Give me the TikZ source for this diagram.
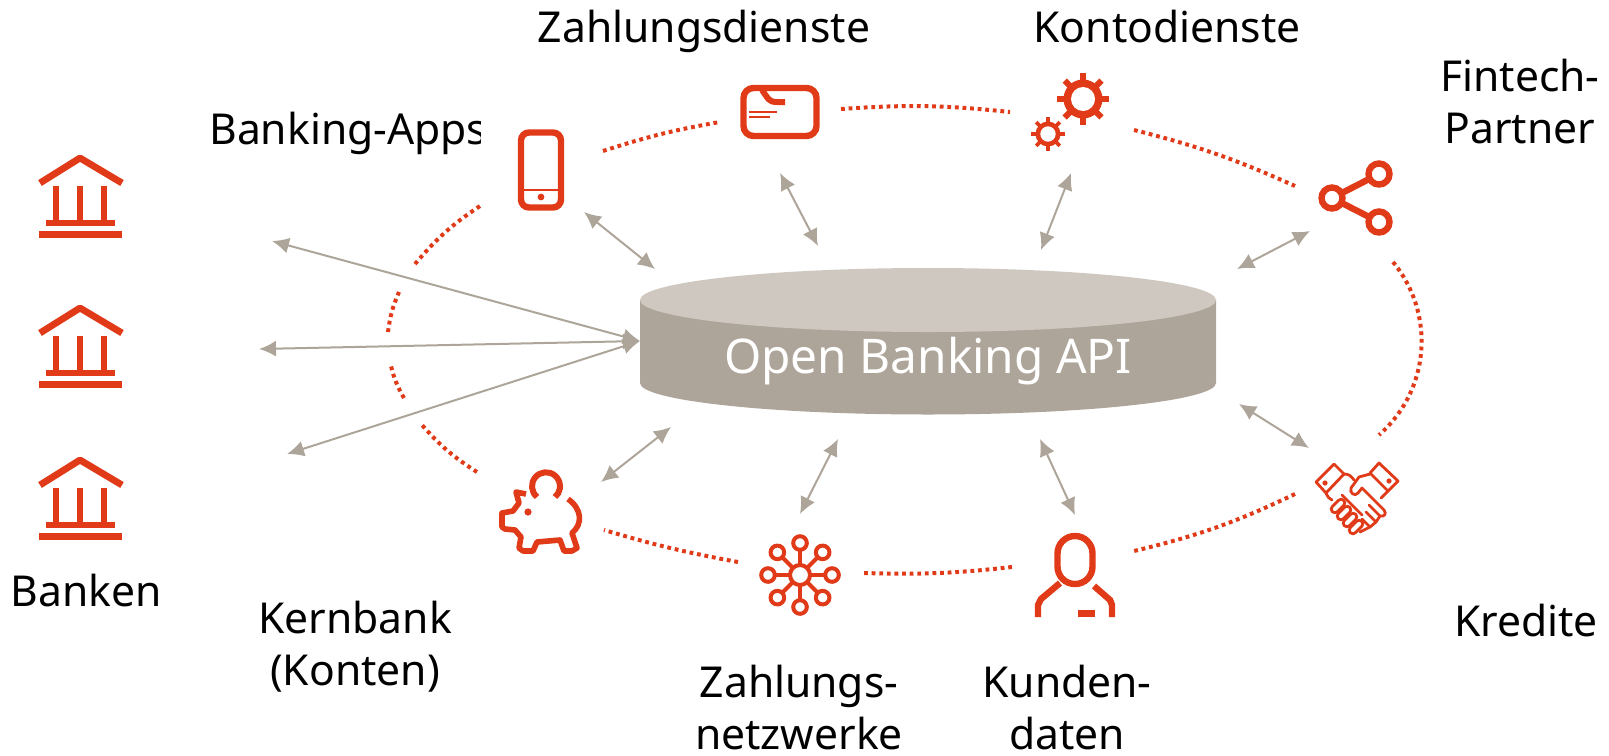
\documentclass[tikz,border=0pt]{standalone}
\usepackage{fontspec}
\setmainfont{Noto Sans}
\definecolor{apired}{HTML}{E03A18}
\definecolor{apigray}{HTML}{AEA59A}
\definecolor{apilight}{HTML}{CEC8C1}
\usetikzlibrary{arrows.meta}
\tikzset{
	label text/.style={font=\fontsize{21.3}{26}\selectfont, text=black, align=center, inner sep=0pt},
	link/.style={apigray, line width=1pt, {Latex[length=8.5pt,width=8pt]}-{Latex[length=8.5pt,width=8pt]}},
	ring/.style={apired, dash pattern=on 1.9pt off 1.9pt, line width=2pt},
	icon/.style={apired, line width=3.2pt},
	fine/.style={apired, line width=1.4pt, line join=round, line cap=round},
	bank/.pic={
		\draw[apired, line width=3.4pt, line join=round] (40,183)--(80,158)--(122,183);
		\foreach \x in {56,80,104}
			\draw[apired, line width=3.2pt] (\x,186)--(\x,222);
		\fill[apired] (46,220) rectangle (115,226);
		\fill[apired] (39,231) rectangle (122,238);
	},
	cog/.pic={
		\foreach \a in {0,45,...,315}
			\fill[apired, rotate=\a] (-3,-26) rectangle (3,0);
		\fill[apired] (0,0) circle (19.5);
		\fill[white] (0,0) circle (12);
	}
}
\begin{document}
\begin{tikzpicture}[x=0.5pt, y=-0.5pt]
	\useasboundingbox (0,0) rectangle (1609,755);

	% fixed points of the dotted ring
	\coordinate (R1) at (603,151);
	\coordinate (R2) at (720,122);
	\coordinate (R3) at (841,109);
	\coordinate (R4) at (1010,112);
	\coordinate (R5) at (1134,130);
	\coordinate (R6) at (1295,186);
	\coordinate (R7) at (1393,262);
	\coordinate (R8) at (1379,435);
	\coordinate (R9) at (1295,494);
	\coordinate (R10) at (1134,551);
	\coordinate (R11) at (1012,567);
	\coordinate (R12) at (864,573);
	\coordinate (R13) at (738,562);
	\coordinate (R14) at (604,530);
	\coordinate (R15) at (477,472);
	\coordinate (R16) at (422,425);
	\coordinate (R17) at (404,398);
	\coordinate (R18) at (391,366);
	\coordinate (R19) at (388,332);
	\coordinate (R20) at (399,292);
	\coordinate (R21) at (415,264);
	\coordinate (R22) at (480,206);

	\draw[ring] (R1) to[bend left=4] (R2);
	\draw[ring] (R3) to[bend left=5] (R4);
	\draw[ring] (R5) to[bend left=5] (R6);
	\draw[ring] (R7) to[bend left=44] (R8);
	\draw[ring] (R9) to[bend left=6] (R10);
	\draw[ring] (R11) to[bend left=4] (R12);
	\draw[ring] (R13) to[bend left=3] (R14);
	\draw[ring] (R15) to[bend left=8] (R16);
	\draw[ring] (R17) to[bend left=8] (R18);
	\draw[ring] (R19) to[bend left=8] (R20);
	\draw[ring] (R21) to[bend left=8] (R22);

	% cylinder
	\fill[apigray] (640,300) -- (640,383) arc[start angle=180, end angle=0, x radius=288, y radius=31.5] -- (1216,300) -- cycle;
	\fill[apilight] (928,300) ellipse [x radius=288, y radius=32];
	\node[font=\fontsize{23.9}{30}\selectfont, text=white, inner sep=0pt] (api) at (928,361) {Open Banking API};

	% links
	\coordinate (hub) at (640,341);
	\foreach \a/\b in {272/241, 259/349, 287/454}
		\draw[link] (\a,\b)--(hub);
	\foreach \a/\b/\c/\d in {584/212/655/269, 780/173/818/246, 1071/173/1041/250,
			1310/231/1237/269, 1239/404/1309/448, 601/482/671/427,
			800/514/838/439, 1075/515/1040/439}
		\draw[link] (\a,\b)--(\c,\d);

	% banks
	\pic at (0,0) {bank};
	\pic at (0,150) {bank};
	\pic at (0,302) {bank};

	% phone
	\draw[icon, rounded corners=4pt] (521,132.5) rectangle (561,207.5);
	\draw[apired, line width=1pt] (521,190)--(561,190);
	\fill[apired] (541,197) circle (3.4);

	% card
	\draw[icon, rounded corners=5pt] (743.5,88) rectangle (816.5,136);
	\draw[apired, line width=3pt] (762,90) .. controls (768,98) and (768,102) .. (777,102) -- (785,102);
	\draw[apired, line width=1pt] (749,112)--(777,112);
	\draw[apired, line width=1pt] (749,117)--(770,117);

	% gears
	\pic at (1083,99) {cog};
	\pic[scale=0.64] at (1048,134) {cog};

	% share
	\coordinate (S1) at (1332,198);
	\coordinate (S2) at (1379,174);
	\coordinate (S3) at (1379,222);
	\draw[icon] (S1)--(S2) (S1)--(S3);
	\foreach \p in {(S1),(S2),(S3)}
		\draw[icon, fill=white] \p circle (10.5);

	% handshake
	\draw[fine] (1316,482)--(1334,464)--(1344,474)--(1326,493)--cycle;
	\draw[fine] (1379,463)--(1398,481)--(1388,491)--(1370,473)--cycle;
	\fill[apired] (1325,483) circle (2.6);
	\fill[apired] (1389,481) circle (2.6);
	\draw[fine] (1344,474) .. controls (1349,474) and (1351,476) .. (1354,480);
	\draw[fine] (1326,493) .. controls (1328,497) and (1329,499) .. (1332,500);
	\draw[fine] (1370,474) -- (1359,477) -- (1351,488) .. controls (1349,493) and (1355,497) .. (1358,493) -- (1362,488)
		-- (1384,510) .. controls (1387,514) and (1384,517) .. (1380,516) -- (1369,505);
	\draw[fine] (1388,491)--(1381,498);
	\draw[fine] (1380,516)--(1376,522) -- (1366,512);
	\draw[fine] (1376,522)--(1370,527) -- (1362,519);
	\draw[fine] (1370,527)--(1360,532);
	\draw[fine] (1342,495)--(1362,515);
	\foreach \x/\y in {1338/506, 1344/513, 1350/520, 1356/527}
		\draw[fine, fill=white, rotate around={45:(\x,\y)}, rounded corners=1.7pt] (\x-8,\y-3.6) rectangle (\x+8,\y+3.6);

	% person
	\draw[icon, rounded corners=8.7pt] (1057.5,536) rectangle (1092.5,584);
	\draw[icon] (1060,583)--(1041,599)--(1038,605)--(1038,617);
	\draw[icon] (1094,586)--(1110,600)--(1112,605)--(1112,617);
	\fill[apired] (1078,610) rectangle (1095,617);

	% network
	\coordinate (N) at (800,575);
	\foreach \a in {0,45,...,315}{
		\draw[apired, line width=2pt] (N) -- ++(\a:26);
		\draw[apired, line width=2pt, fill=white] (N) ++(\a:32) circle (6.8);
	}
	\draw[apired, line width=2pt, fill=white] (N) circle (10);

	% pig
	\draw[apired, line width=3pt] (537,497) arc[start angle=130, end angle=410, x radius=14, y radius=14];
	\draw[icon, line width=2.8pt, line join=round] (568,499) .. controls (582,509) and (583,524) .. (572,533)
		-- (577,548) -- (572,551) -- (564,551) -- (560,540) -- (537,542) -- (533,551) -- (523,551) -- (519,548)
		-- (521,537) -- (515,530) -- (505,529) -- (502,527) -- (502,513) -- (513,511) -- (519,503)
		-- (516,492) -- (526,494);
	\fill[apired] (528,512) circle (3.6);

	% labels
	\begin{scope}
		\clip (0,100) rectangle (480,170);
		\node[label text, anchor=base west] (apps) at (209,144) {Banking-Apps};
	\end{scope}
	\node[label text, anchor=base] (pay) at (704,42) {Zahlungsdienste};
	\node[label text, anchor=base] (acc) at (1167,42) {Kontodienste};
	\node[label text] (fin) at (1520,102) {Fintech-\\Partner};
	\node[label text, anchor=base] (ban) at (86,606) {Banken};
	\node[label text] (core) at (355,647) {Kernbank\\(Konten)};
	\node[label text] (net) at (799,708) {Zahlungs-\\netzwerke};
	\node[label text] (cust) at (1067,708) {Kunden-\\daten};
	\node[label text, anchor=base] (cre) at (1526,636) {Kredite};
\end{tikzpicture}
\end{document}
